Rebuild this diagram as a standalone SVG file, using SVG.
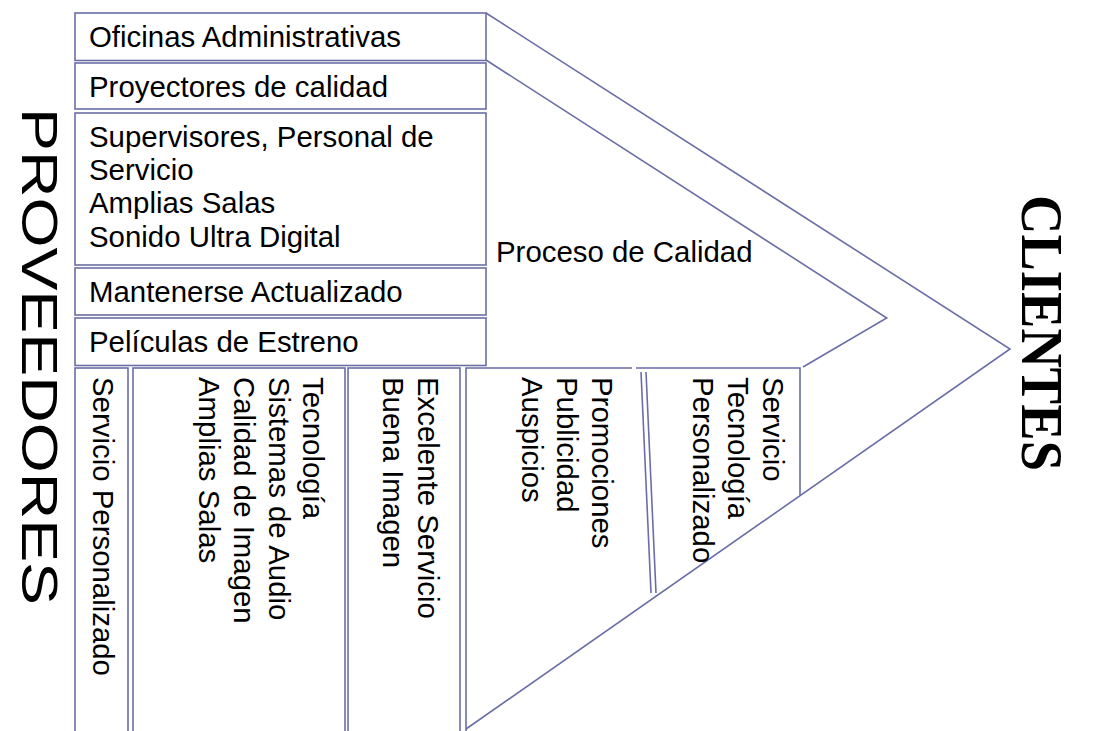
<svg xmlns="http://www.w3.org/2000/svg" width="1104" height="731" viewBox="0 0 1104 731">
<style>
.b{fill:#fff;stroke:#6b6ea6;stroke-width:1.6}
.l{fill:none;stroke:#6b6ea6;stroke-width:1.6}
.t{font-family:"Liberation Sans",Arial,sans-serif;font-size:29.4px;fill:#000}
.big{font-family:"Liberation Sans",Arial,sans-serif;font-size:50px;fill:#000}
.ser{font-family:"Liberation Serif","Times New Roman",serif;font-size:60px;font-weight:bold;fill:#000}
</style>
<rect width="1104" height="731" fill="#fff"/>
<g id="chevron-lines">
<polyline class="l" points="486,13 1010,349 466,729"/>
<polyline class="l" points="486,60 886.7,318 803,367"/>
</g>
<g id="box1"><rect class="b" x="75" y="13" width="411" height="47.5"/><text class="t" x="89" y="47">Oficinas Administrativas</text></g>
<g id="box2"><rect class="b" x="75" y="63" width="411" height="46"/><text class="t" x="89" y="97">Proyectores de calidad</text></g>
<g id="box3"><rect class="b" x="75" y="113" width="411" height="152"/>
<text class="t" x="89" y="146.7">Supervisores, Personal de</text>
<text class="t" x="89" y="180">Servicio</text>
<text class="t" x="89" y="213.3">Amplias Salas</text>
<text class="t" x="89" y="246.7">Sonido Ultra Digital</text></g>
<g id="box4"><rect class="b" x="75" y="268" width="411" height="47"/><text class="t" x="89" y="301.7">Mantenerse Actualizado</text></g>
<g id="box5"><rect class="b" x="75" y="318" width="411" height="47.5"/><text class="t" x="89" y="352.3">Películas de Estreno</text></g>
<g id="proceso"><text class="t" x="496" y="262">Proceso de Calidad</text></g>
<g id="col1"><rect class="b" x="75" y="368" width="53" height="380"/>
<text class="t" transform="translate(93,377) rotate(90)">Servicio Personalizado</text></g>
<g id="col2"><rect class="b" x="133" y="368" width="212" height="380"/>
<text class="t" transform="translate(303,377) rotate(90)">Tecnología</text>
<text class="t" transform="translate(269,377) rotate(90)">Sistemas de Audio</text>
<text class="t" transform="translate(234,377) rotate(90)">Calidad de Imagen</text>
<text class="t" transform="translate(199,377) rotate(90)">Amplias Salas</text></g>
<g id="col3"><rect class="b" x="348" y="368" width="112" height="380"/>
<text class="t" transform="translate(418,377) rotate(90)">Excelente Servicio</text>
<text class="t" transform="translate(383,377) rotate(90)">Buena Imagen</text></g>
<g id="col4"><polyline class="l" points="466,740 466,368 632,368"/>
<line class="l" x1="641" y1="372" x2="651" y2="593"/>
<line class="l" x1="646" y1="372" x2="656" y2="593"/>
<text class="t" transform="translate(592,377) rotate(90)">Promociones</text>
<text class="t" transform="translate(557,377) rotate(90)">Publicidad</text>
<text class="t" transform="translate(522,377) rotate(90)">Auspicios</text></g>
<g id="col5"><polyline class="l" points="636,368 800,368 800,495"/>
<text class="t" transform="translate(763,377) rotate(90)">Servicio</text>
<text class="t" transform="translate(728,377) rotate(90)">Tecnología</text>
<text class="t" transform="translate(693,377) rotate(90)">Personalizado</text></g>
<g id="proveedores"><text class="big" transform="translate(22,108) rotate(90)" textLength="497" lengthAdjust="spacingAndGlyphs">PROVEEDORES</text></g>
<g id="clientes"><text class="ser" transform="translate(1022,195) rotate(90)" textLength="276" lengthAdjust="spacingAndGlyphs">CLIENTES</text></g>
</svg>
